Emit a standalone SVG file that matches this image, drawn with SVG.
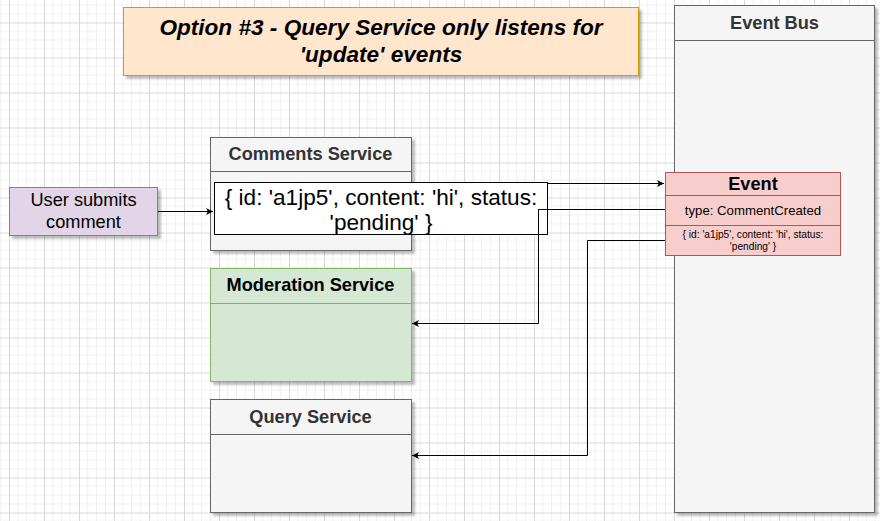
<svg xmlns="http://www.w3.org/2000/svg" width="880" height="521" viewBox="0 0 880 521">
  <defs>
    <pattern id="grid" x="9" y="22.5" width="35" height="35" patternUnits="userSpaceOnUse">
      <path d="M8.75 0V35M17.5 0V35M26.25 0V35M0 8.75H35M0 17.5H35M0 26.25H35" stroke="#f0f0f0" stroke-width="1" fill="none"/>
      <path d="M0.5 0V35M0 0.5H35" stroke="#d8d8d8" stroke-width="1" fill="none"/>
    </pattern>
    <marker id="arr" markerWidth="10" markerHeight="8" refX="7" refY="3.5" orient="auto" markerUnits="userSpaceOnUse">
      <path d="M0,0 L7,3.5 L0,7 L1.8,3.5 Z" fill="#000"/>
    </marker>
    <filter id="sh" x="-10%" y="-10%" width="130%" height="130%">
      <feDropShadow dx="3" dy="3" stdDeviation="1" flood-color="#000" flood-opacity="0.25"/>
    </filter>
  </defs>
  <style>
    text { font-family: "Liberation Sans", Arial, sans-serif; }
    .hdr { font-size: 18.2px; font-weight: bold; text-anchor: middle; }
    .grey { fill: #f5f5f5; stroke: #666666; stroke-width: 1; }
    .conn { fill: none; stroke: #000; stroke-width: 1; }
  </style>
  <rect width="880" height="521" fill="#ffffff"/>
  <rect width="880" height="521" fill="url(#grid)"/>

  <g id="title">
    <rect x="123.5" y="7.5" width="515" height="68" fill="#ffe6cc" stroke="#d79b00" filter="url(#sh)"/>
    <text x="381" y="35" font-size="22.6" font-weight="bold" font-style="italic" text-anchor="middle">Option #3 - Query Service only listens for</text>
    <text x="381" y="62" font-size="22.6" font-weight="bold" font-style="italic" text-anchor="middle">'update' events</text>
  </g>

  <g id="event-bus">
    <rect class="grey" x="674.5" y="5.5" width="200" height="507" filter="url(#sh)"/>
    <line x1="674.5" y1="40.5" x2="874.5" y2="40.5" stroke="#666666"/>
    <text class="hdr" x="774.5" y="29" fill="#333333">Event Bus</text>
  </g>

  <g id="comments-service">
    <rect class="grey" x="210.5" y="137.5" width="201" height="113" filter="url(#sh)"/>
    <line x1="210.5" y1="171.5" x2="411.5" y2="171.5" stroke="#666666"/>
    <text class="hdr" x="310.5" y="160" fill="#333333">Comments Service</text>
  </g>

  <g id="comment-data">
    <rect x="214.5" y="182.5" width="333" height="52" fill="#ffffff" stroke="#000000"/>
    <text x="381" y="205" font-size="22.6" text-anchor="middle">{ id: 'a1jp5', content: 'hi', status:</text>
    <text x="381" y="230" font-size="22.6" text-anchor="middle">'pending' }</text>
  </g>

  <g id="user-submits">
    <rect x="9.5" y="187.5" width="148" height="48" fill="#e1d5e7" stroke="#9673a6" filter="url(#sh)"/>
    <text x="83.5" y="206" font-size="18.2" text-anchor="middle">User submits</text>
    <text x="83.5" y="228" font-size="18.2" text-anchor="middle">comment</text>
  </g>

  <g id="moderation-service">
    <rect x="210.5" y="268.5" width="201" height="113" fill="#d5e8d4" stroke="#82b366" filter="url(#sh)"/>
    <line x1="210.5" y1="303.5" x2="411.5" y2="303.5" stroke="#82b366"/>
    <text class="hdr" x="310.5" y="291" fill="#000000">Moderation Service</text>
  </g>

  <g id="query-service">
    <rect class="grey" x="210.5" y="399.5" width="201" height="113" filter="url(#sh)"/>
    <line x1="210.5" y1="434.5" x2="411.5" y2="434.5" stroke="#666666"/>
    <text class="hdr" x="310.5" y="423" fill="#333333">Query Service</text>
  </g>

  <g id="event">
    <rect x="665.5" y="172.5" width="175" height="83" fill="#f8cecc" stroke="#b85450"/>
    <line x1="665.5" y1="195.5" x2="840.5" y2="195.5" stroke="#b85450"/>
    <line x1="665.5" y1="225.5" x2="840.5" y2="225.5" stroke="#b85450"/>
    <text class="hdr" x="753" y="190" fill="#000000">Event</text>
    <text x="753" y="215" font-size="13.2" text-anchor="middle">type: CommentCreated</text>
    <text x="753" y="238" font-size="10.2" text-anchor="middle">{ id: 'a1jp5', content: 'hi', status:</text>
    <text x="753" y="250" font-size="10.2" text-anchor="middle">'pending' }</text>
  </g>

  <g id="connectors">
    <path class="conn" d="M158 211.5H213" marker-end="url(#arr)"/>
    <path class="conn" d="M547 183.5H664" marker-end="url(#arr)"/>
    <path class="conn" d="M665 209.5H538.5V323.5H412" marker-end="url(#arr)"/>
    <path class="conn" d="M665 240.5H587.5V455.5H412" marker-end="url(#arr)"/>
  </g>
</svg>
